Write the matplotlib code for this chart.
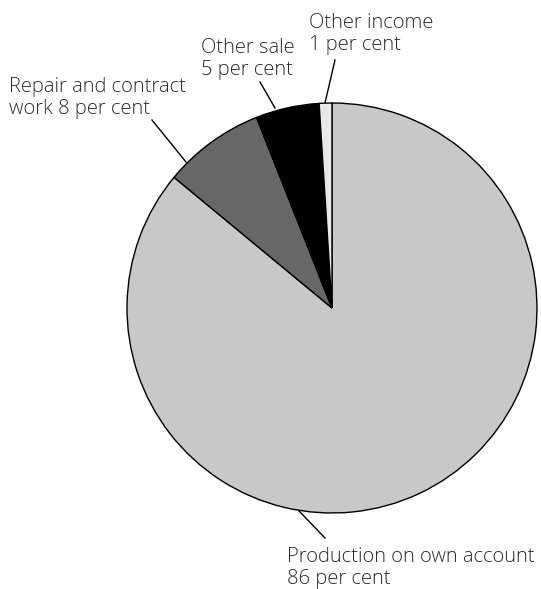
import numpy as np
import matplotlib
matplotlib.use("Agg")
import matplotlib.pyplot as plt

# shares of income, clockwise from 12 o'clock
labels = ["Production on own account\n86 per cent",
          "Repair and contract\nwork 8 per cent",
          "Other sale\n5 per cent",
          "Other income\n1 per cent"]
shares = [86, 8, 5, 1]
colors = ["#c8c8c8", "#676767", "#000000", "#e8e8e8"]

# figure pixels -> data units (pie radius 1 = 205 px, centre at 332,308)
W, H = 541, 589
cx, cy, R = 332, 308, 205.0

def px(x, y):
    return (x - cx) / R, (cy - y) / R

fig = plt.figure(figsize=(W / 100, H / 100), dpi=100)
ax = fig.add_axes([0, 0, 1, 1])
ax.pie(shares, colors=colors, startangle=90, counterclock=False,
       wedgeprops=dict(edgecolor="black", linewidth=1.0))
ax.set_xlim(px(0, 0)[0], px(W, 0)[0])
ax.set_ylim(px(0, H)[1], px(0, 0)[1])
ax.set_aspect("equal")
ax.axis("off")

# label text anchor (top-left) and leader line ends, in pixels
text_pos = [(287, 547), (9, 77), (201, 38), (309, 13)]
leaders = [((299, 511), (325, 538)),
           ((186, 162), (152, 120)),
           ((275, 108), (260, 82)),
           ((325, 103), (335, 60))]

for lab, tp, (a, b) in zip(labels, text_pos, leaders):
    x0, y0 = px(*a)
    x1, y1 = px(*b)
    ax.plot([x0, x1], [y0, y1], color="black", linewidth=1.0)
    tx, ty = px(*tp)
    ax.text(tx, ty, lab, ha="left", va="top", fontsize=14.5,
            family="Open Sans", fontweight="light", color="#2a2a2a",
            linespacing=1.12)

fig.savefig("out.png", dpi=100)
